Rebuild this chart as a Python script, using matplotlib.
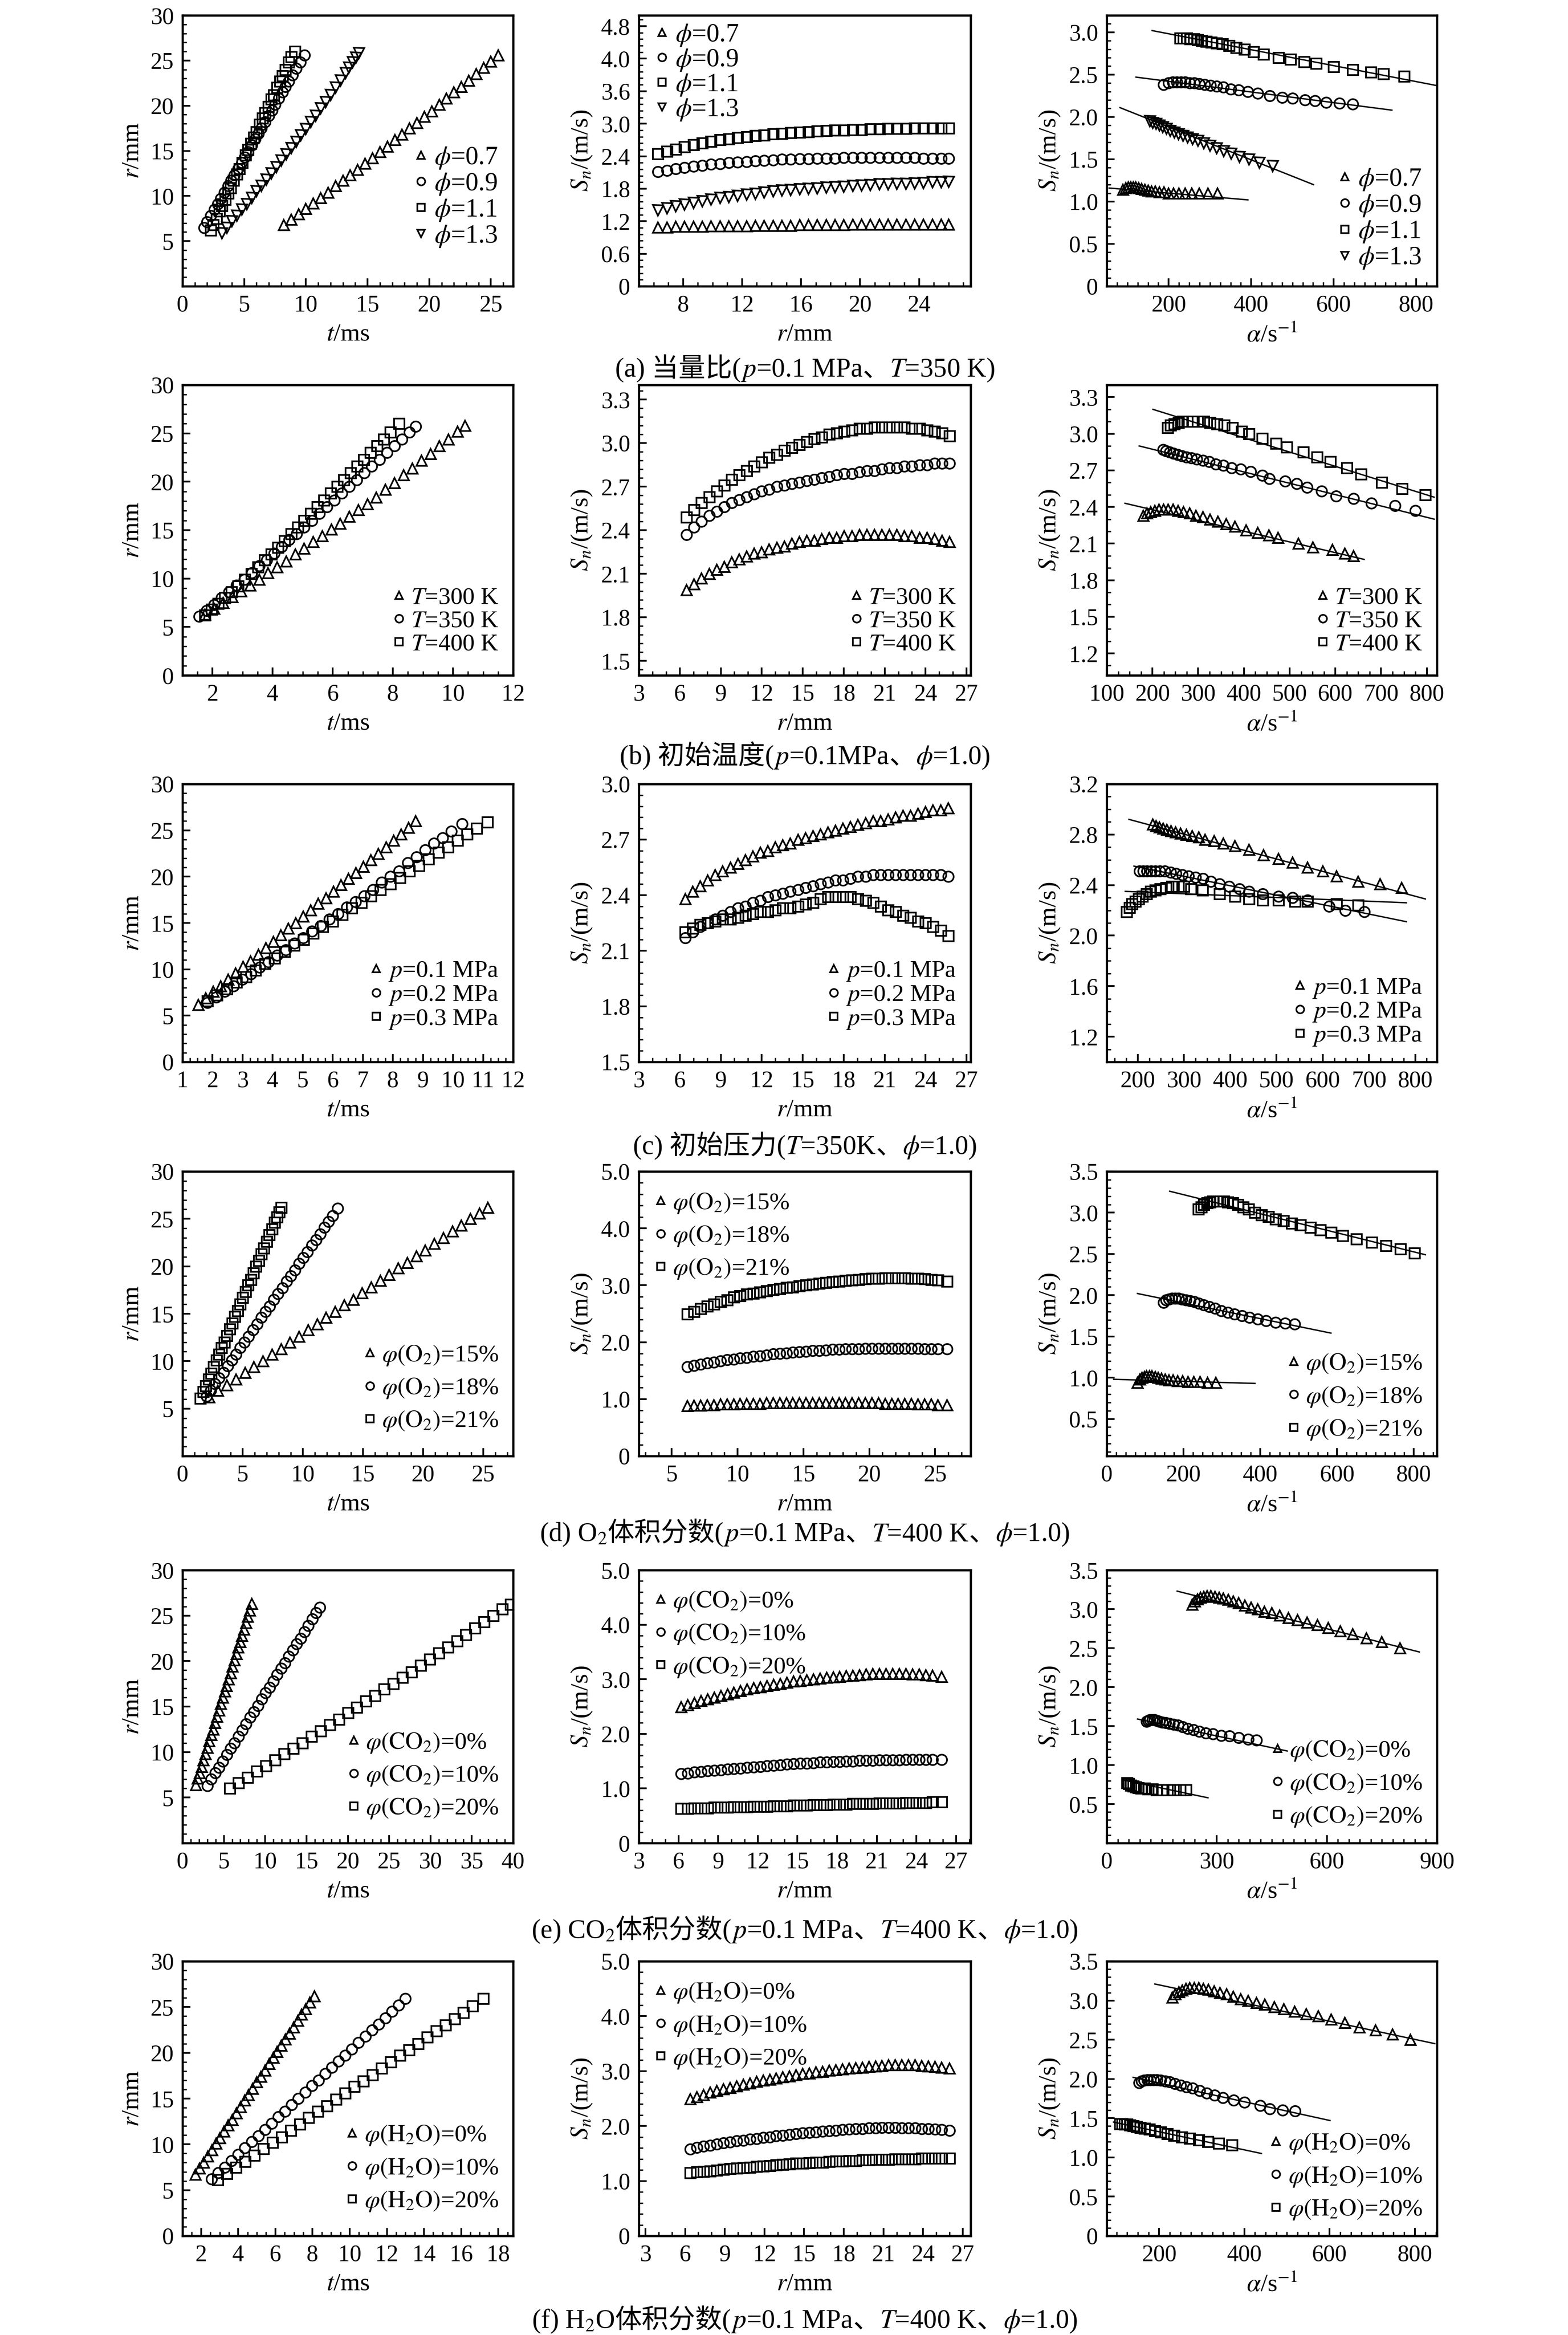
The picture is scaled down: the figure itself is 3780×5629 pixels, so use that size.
import matplotlib
matplotlib.use('Agg')
import matplotlib.pyplot as plt
from matplotlib.ticker import AutoMinorLocator, FuncFormatter

plt.rcParams['font.family'] = ['Liberation Serif', 'Noto Sans CJK SC']
plt.rcParams['mathtext.fontset'] = 'stix'
plt.rcParams['axes.unicode_minus'] = False

W, H = 3780, 5629

# ---------------- (a) equivalence ratio ----------------
A_LABELS = [r'$\phi$=0.7', r'$\phi$=0.9', r'$\phi$=1.1', r'$\phi$=1.3']
A_MARKERS = ['^', 'o', 's', 'v']

A_T07 = [8.2, 8.8, 9.4, 10.0, 10.6, 11.2, 11.8, 12.4, 13.0, 13.6,
         14.2, 14.8, 15.4, 16.0, 16.6, 17.2, 17.8, 18.4, 19.0, 19.6,
         20.2, 20.8, 21.4, 22.0, 22.6, 23.2, 23.8, 24.4, 25.0, 25.6]
A_R07 = [6.8, 7.4, 8.0, 8.6, 9.2, 9.8, 10.4, 11.1, 11.7, 12.3,
         12.9, 13.6, 14.2, 14.9, 15.5, 16.2, 16.8, 17.5, 18.1, 18.8,
         19.4, 20.1, 20.8, 21.5, 22.1, 22.8, 23.5, 24.2, 24.9, 25.6]
A_T09 = [1.75, 2.0, 2.3, 2.6, 2.85, 3.1, 3.4, 3.7, 3.95, 4.2,
         4.5, 4.8, 5.05, 5.3, 5.6, 5.9, 6.15, 6.4, 6.7, 7.0,
         7.25, 7.5, 7.8, 8.1, 8.35, 8.6, 8.9, 9.2, 9.55, 9.9]
A_R09 = [6.5, 7.1, 7.8, 8.5, 9.1, 9.7, 10.4, 11.1, 11.7, 12.3,
         13.0, 13.7, 14.3, 14.9, 15.6, 16.3, 16.9, 17.5, 18.2, 18.9,
         19.5, 20.1, 20.8, 21.5, 22.1, 22.7, 23.4, 24.1, 24.8, 25.6]
A_T11 = [2.3, 2.5, 2.75, 3.0, 3.2, 3.45, 3.7, 3.9, 4.15, 4.4,
         4.6, 4.85, 5.1, 5.3, 5.55, 5.8, 6.0, 6.25, 6.5, 6.7,
         6.95, 7.2, 7.4, 7.65, 7.9, 8.1, 8.35, 8.6, 8.8, 9.1]
A_R11 = [6.2, 6.8, 7.5, 8.3, 8.9, 9.6, 10.3, 10.9, 11.7, 12.4,
         13.0, 13.7, 14.5, 15.1, 15.8, 16.5, 17.1, 17.9, 18.6, 19.2,
         19.9, 20.7, 21.2, 22.0, 22.7, 23.3, 24.0, 24.8, 25.4, 26.0]
A_T13 = [3.2, 3.6, 4.0, 4.4, 4.8, 5.2, 5.6, 6.0, 6.4, 6.8,
         7.2, 7.6, 8.0, 8.4, 8.8, 9.2, 9.6, 10.0, 10.4, 10.8,
         11.2, 11.6, 12.0, 12.4, 12.8, 13.2, 13.5, 13.8, 14.05, 14.3]
A_R13 = [5.9, 6.5, 7.2, 7.8, 8.5, 9.1, 9.8, 10.5, 11.1, 11.8,
         12.5, 13.2, 13.9, 14.6, 15.3, 16.0, 16.7, 17.4, 18.2, 18.9,
         19.7, 20.4, 21.2, 22.0, 22.8, 23.6, 24.2, 24.8, 25.3, 25.8]

A_RMID = [6.3, 6.9, 7.5, 8.1, 8.7, 9.3, 9.9, 10.5, 11.1, 11.7,
          12.3, 12.9, 13.5, 14.1, 14.7, 15.3, 15.9, 16.5, 17.1, 17.7,
          18.3, 18.9, 19.5, 20.1, 20.7, 21.3, 21.9, 22.5, 23.1, 23.7,
          24.3, 24.9, 25.5, 26.0]
A_S07 = [1.09, 1.09, 1.10, 1.10, 1.10, 1.10, 1.11, 1.11, 1.11, 1.11,
         1.11, 1.12, 1.12, 1.12, 1.12, 1.12, 1.13, 1.13, 1.13, 1.13,
         1.13, 1.13, 1.14, 1.14, 1.14, 1.14, 1.14, 1.14, 1.14, 1.14,
         1.14, 1.14, 1.14, 1.14]
A_S09 = [2.11, 2.14, 2.17, 2.19, 2.21, 2.23, 2.25, 2.26, 2.28, 2.29,
         2.30, 2.31, 2.32, 2.33, 2.34, 2.34, 2.35, 2.35, 2.36, 2.36,
         2.36, 2.37, 2.37, 2.37, 2.37, 2.37, 2.37, 2.37, 2.37, 2.37,
         2.36, 2.36, 2.36, 2.36]
A_S11 = [2.44, 2.49, 2.53, 2.57, 2.61, 2.64, 2.67, 2.70, 2.72, 2.74,
         2.76, 2.78, 2.79, 2.81, 2.82, 2.83, 2.84, 2.85, 2.86, 2.87,
         2.88, 2.88, 2.89, 2.89, 2.90, 2.90, 2.91, 2.91, 2.91, 2.92,
         2.92, 2.92, 2.92, 2.92]
A_S13 = [1.40, 1.44, 1.48, 1.51, 1.54, 1.57, 1.60, 1.63, 1.65, 1.67,
         1.69, 1.71, 1.73, 1.75, 1.77, 1.78, 1.79, 1.80, 1.81, 1.82,
         1.83, 1.84, 1.85, 1.86, 1.87, 1.88, 1.88, 1.89, 1.89, 1.90,
         1.91, 1.92, 1.92, 1.93]
# the source figure prints "4.0" at the 4.2 tick
A_MID_YTICKS = [0, 0.6, 1.2, 1.8, 2.4, 3.0, 3.6, 4.2, 4.8]
A_MID_YLABELS = ['0', '0.6', '1.2', '1.8', '2.4', '3.0', '3.6', '4.0', '4.8']

A_K07 = [89, 96, 102, 108, 114, 120, 127, 134, 142, 150,
         159, 168, 178, 189, 200, 212, 225, 240, 256, 274, 295, 318]
A_KS07 = [1.14, 1.16, 1.17, 1.17, 1.17, 1.17, 1.16, 1.15, 1.14, 1.13,
          1.12, 1.12, 1.11, 1.11, 1.10, 1.10, 1.10, 1.10, 1.10, 1.10, 1.10, 1.10]
A_K09 = [188, 200, 210, 220, 230, 240, 251, 262, 274, 287,
         301, 316, 332, 350, 370, 392, 416, 445, 475, 500,
         530, 555, 582, 614, 646]
A_KS09 = [2.38, 2.40, 2.41, 2.41, 2.41, 2.41, 2.40, 2.40, 2.39, 2.38,
          2.37, 2.36, 2.35, 2.33, 2.32, 2.30, 2.28, 2.25, 2.23, 2.22,
          2.20, 2.19, 2.17, 2.16, 2.15]
A_K11 = [228, 236, 244, 252, 261, 270, 280, 291, 303, 316,
         330, 346, 364, 384, 406, 430, 466, 495, 528, 558,
         600, 646, 690, 720, 771]
A_KS11 = [2.93, 2.93, 2.93, 2.92, 2.92, 2.91, 2.90, 2.89, 2.88, 2.87,
          2.86, 2.84, 2.82, 2.80, 2.77, 2.74, 2.70, 2.68, 2.65, 2.63,
          2.59, 2.56, 2.53, 2.51, 2.48]
A_K13 = [155, 162, 170, 178, 186, 195, 204, 214, 224, 235,
         246, 258, 271, 285, 300, 316, 333, 352, 372, 395, 420, 452]
A_KS13 = [1.95, 1.93, 1.92, 1.90, 1.88, 1.86, 1.84, 1.82, 1.80, 1.78,
          1.76, 1.74, 1.72, 1.69, 1.66, 1.63, 1.60, 1.57, 1.53, 1.50, 1.46, 1.42]
A_FIT_X = [(56, 392), (121, 741), (160, 850), (82, 551)]
A_FIT_Y = [(1.16, 1.02), (2.47, 2.08), (3.02, 2.37), (2.11, 1.20)]

# ---------------- (b) initial temperature ----------------
B_LABELS = [r'$T$=300 K', r'$T$=350 K', r'$T$=400 K']
B_MARKERS = ['^', 'o', 's']

B_T300 = [1.75, 2.05, 2.35, 2.65, 2.95, 3.25, 3.55, 3.85, 4.15, 4.45,
          4.75, 5.05, 5.35, 5.65, 5.95, 6.25, 6.55, 6.85, 7.15, 7.45,
          7.75, 8.05, 8.35, 8.65, 8.95, 9.25, 9.55, 9.85, 10.15, 10.4]
B_R300 = [6.3, 6.9, 7.5, 8.1, 8.7, 9.3, 9.9, 10.6, 11.2, 11.8,
          12.5, 13.1, 13.8, 14.4, 15.1, 15.7, 16.4, 17.1, 17.7, 18.4,
          19.2, 19.9, 20.7, 21.4, 22.2, 22.9, 23.7, 24.4, 25.2, 25.8]
B_T350 = [1.55, 1.8, 2.05, 2.3, 2.55, 2.8, 3.05, 3.3, 3.55, 3.8,
          4.05, 4.3, 4.55, 4.8, 5.05, 5.3, 5.55, 5.8, 6.05, 6.3,
          6.55, 6.8, 7.05, 7.3, 7.55, 7.8, 8.05, 8.3, 8.55, 8.75]
B_R350 = [6.1, 6.7, 7.3, 8.0, 8.6, 9.3, 9.9, 10.6, 11.3, 11.9,
          12.6, 13.3, 14.0, 14.6, 15.3, 16.0, 16.7, 17.4, 18.1, 18.8,
          19.5, 20.2, 20.9, 21.6, 22.3, 23.0, 23.7, 24.4, 25.1, 25.7]
B_T400 = [1.75, 1.97, 2.19, 2.41, 2.63, 2.85, 3.07, 3.29, 3.51, 3.73,
          3.95, 4.17, 4.39, 4.61, 4.83, 5.05, 5.27, 5.49, 5.71, 5.93,
          6.15, 6.37, 6.59, 6.81, 7.03, 7.25, 7.47, 7.69, 7.91, 8.2]
B_R400 = [6.2, 6.8, 7.4, 8.0, 8.6, 9.2, 9.9, 10.5, 11.2, 11.9,
          12.5, 13.2, 13.9, 14.6, 15.3, 16.0, 16.7, 17.4, 18.1, 18.8,
          19.5, 20.2, 20.9, 21.6, 22.3, 23.0, 23.7, 24.4, 25.1, 26.0]

B_RMID = [6.5, 7.05, 7.6, 8.15, 8.7, 9.25, 9.8, 10.35, 10.9, 11.45,
          12.0, 12.55, 13.1, 13.65, 14.2, 14.75, 15.3, 15.85, 16.4, 16.95,
          17.5, 18.05, 18.6, 19.15, 19.7, 20.25, 20.8, 21.35, 21.9, 22.45,
          23.0, 23.55, 24.1, 24.65, 25.2, 25.75]
B_S300 = [1.99, 2.03, 2.07, 2.10, 2.13, 2.15, 2.18, 2.20, 2.22, 2.24,
          2.25, 2.27, 2.28, 2.29, 2.31, 2.32, 2.33, 2.33, 2.34, 2.35,
          2.35, 2.36, 2.36, 2.37, 2.37, 2.37, 2.37, 2.37, 2.37, 2.36,
          2.36, 2.35, 2.35, 2.34, 2.33, 2.32]
B_S350 = [2.37, 2.42, 2.46, 2.50, 2.53, 2.56, 2.59, 2.61, 2.63, 2.65,
          2.67, 2.68, 2.70, 2.71, 2.72, 2.73, 2.74, 2.75, 2.76, 2.77,
          2.78, 2.79, 2.79, 2.80, 2.81, 2.81, 2.82, 2.83, 2.83, 2.84,
          2.84, 2.85, 2.85, 2.86, 2.86, 2.86]
B_S400 = [2.49, 2.54, 2.59, 2.63, 2.67, 2.71, 2.75, 2.78, 2.81, 2.84,
          2.87, 2.90, 2.92, 2.95, 2.97, 2.99, 3.01, 3.03, 3.04, 3.06,
          3.07, 3.08, 3.09, 3.10, 3.10, 3.11, 3.11, 3.11, 3.11, 3.11,
          3.10, 3.10, 3.09, 3.08, 3.07, 3.05]

B_K300 = [180, 188, 196, 205, 214, 224, 234, 245, 256, 268,
          281, 295, 310, 326, 343, 361, 380, 405, 430, 455,
          475, 519, 551, 593, 621, 640]
B_KS300 = [2.33, 2.35, 2.36, 2.37, 2.38, 2.38, 2.38, 2.38, 2.37, 2.36,
           2.35, 2.33, 2.32, 2.30, 2.28, 2.26, 2.24, 2.21, 2.19, 2.17,
           2.15, 2.10, 2.07, 2.05, 2.02, 2.00]
B_K350 = [223, 230, 238, 246, 255, 264, 274, 285, 297, 310,
          324, 339, 355, 373, 393, 415, 440, 456, 490, 515,
          538, 570, 602, 640, 679, 730, 775]
B_KS350 = [2.87, 2.86, 2.85, 2.84, 2.83, 2.82, 2.81, 2.80, 2.79, 2.78,
           2.77, 2.75, 2.74, 2.72, 2.71, 2.69, 2.66, 2.63, 2.61, 2.59,
           2.56, 2.53, 2.49, 2.47, 2.43, 2.41, 2.37]
B_K400 = [233, 240, 248, 257, 266, 276, 287, 299, 312, 326,
          341, 357, 375, 395, 411, 440, 470, 494, 530, 560,
          589, 625, 656, 701, 746, 797]
B_KS400 = [3.05, 3.07, 3.08, 3.09, 3.10, 3.10, 3.10, 3.10, 3.10, 3.09,
           3.08, 3.07, 3.05, 3.02, 3.00, 2.96, 2.92, 2.89, 2.85, 2.81,
           2.77, 2.72, 2.67, 2.60, 2.55, 2.50]
B_FIT_X = [(140, 663), (171, 816), (201, 816)]
B_FIT_Y = [(2.43, 1.97), (2.90, 2.30), (3.20, 2.48)]

# ---------------- (c) initial pressure ----------------
C_LABELS = [r'$p$=0.1 MPa', r'$p$=0.2 MPa', r'$p$=0.3 MPa']
C_MARKERS = ['^', 'o', 's']

C_T01 = [1.52, 1.77, 2.02, 2.27, 2.52, 2.77, 3.02, 3.27, 3.52, 3.77,
         4.02, 4.27, 4.52, 4.77, 5.02, 5.27, 5.52, 5.77, 6.02, 6.27,
         6.52, 6.77, 7.02, 7.27, 7.52, 7.77, 8.02, 8.27, 8.52, 8.76]
C_R01 = [6.2, 6.9, 7.6, 8.2, 8.9, 9.6, 10.3, 10.9, 11.6, 12.3,
         13.0, 13.7, 14.4, 15.0, 15.7, 16.4, 17.1, 17.7, 18.4, 19.1,
         19.8, 20.4, 21.1, 21.8, 22.5, 23.2, 23.9, 24.6, 25.3, 26.0]
C_T02 = [1.83, 2.12, 2.41, 2.7, 2.99, 3.28, 3.57, 3.86, 4.15, 4.44,
         4.73, 5.02, 5.31, 5.6, 5.89, 6.18, 6.47, 6.76, 7.05, 7.34,
         7.63, 7.92, 8.21, 8.5, 8.79, 9.08, 9.37, 9.66, 9.95, 10.3]
C_R02 = [6.4, 7.0, 7.6, 8.2, 8.9, 9.5, 10.2, 10.8, 11.5, 12.1,
         12.8, 13.4, 14.1, 14.7, 15.4, 16.0, 16.7, 17.3, 17.9, 18.6,
         19.4, 20.0, 20.6, 21.5, 22.1, 22.9, 23.6, 24.2, 24.9, 25.7]
C_T03 = [1.83, 2.15, 2.47, 2.79, 3.11, 3.43, 3.75, 4.07, 4.39, 4.71,
         5.03, 5.35, 5.67, 5.99, 6.31, 6.63, 6.95, 7.27, 7.59, 7.91,
         8.23, 8.55, 8.87, 9.19, 9.51, 9.83, 10.15, 10.47, 10.79, 11.15]
C_R03 = [6.6, 7.2, 7.9, 8.6, 9.2, 9.9, 10.6, 11.2, 11.9, 12.6,
         13.2, 13.9, 14.6, 15.2, 15.9, 16.6, 17.2, 17.9, 18.6, 19.2,
         19.9, 20.6, 21.2, 21.9, 22.6, 23.2, 23.9, 24.6, 25.2, 25.9]

C_RMID = [6.4, 6.95, 7.5, 8.05, 8.6, 9.15, 9.7, 10.25, 10.8, 11.35,
          11.9, 12.45, 13.0, 13.55, 14.1, 14.65, 15.2, 15.75, 16.3, 16.85,
          17.4, 17.95, 18.5, 19.05, 19.6, 20.15, 20.7, 21.25, 21.8, 22.35,
          22.9, 23.45, 24.0, 24.55, 25.1, 25.65]
C_S01 = [2.38, 2.42, 2.45, 2.48, 2.51, 2.53, 2.55, 2.57, 2.59, 2.61,
         2.63, 2.64, 2.66, 2.67, 2.68, 2.70, 2.71, 2.72, 2.73, 2.74,
         2.75, 2.76, 2.77, 2.78, 2.79, 2.80, 2.80, 2.81, 2.82, 2.83,
         2.83, 2.84, 2.85, 2.86, 2.86, 2.87]
C_S02 = [2.17, 2.20, 2.23, 2.25, 2.27, 2.29, 2.31, 2.33, 2.34, 2.36,
         2.37, 2.39, 2.40, 2.41, 2.42, 2.43, 2.44, 2.45, 2.46, 2.47,
         2.48, 2.48, 2.49, 2.50, 2.50, 2.51, 2.51, 2.51, 2.51, 2.51,
         2.51, 2.51, 2.51, 2.51, 2.51, 2.50]
C_S03 = [2.20, 2.22, 2.24, 2.25, 2.26, 2.27, 2.27, 2.28, 2.29, 2.30,
         2.31, 2.31, 2.32, 2.33, 2.33, 2.34, 2.35, 2.36, 2.38, 2.39,
         2.39, 2.39, 2.39, 2.38, 2.37, 2.36, 2.34, 2.32, 2.31, 2.29,
         2.28, 2.26, 2.25, 2.23, 2.21, 2.18]

C_K01 = [233, 240, 247, 255, 263, 272, 282, 293, 305, 318,
         332, 346, 365, 385, 410, 441, 472, 504, 535, 567,
         600, 630, 677, 724, 771]
C_KS01 = [2.88, 2.87, 2.86, 2.85, 2.84, 2.83, 2.82, 2.81, 2.80, 2.79,
          2.78, 2.76, 2.75, 2.73, 2.71, 2.68, 2.64, 2.61, 2.58, 2.54,
          2.51, 2.47, 2.43, 2.41, 2.38]
C_K02 = [204, 212, 220, 229, 238, 248, 259, 271, 283, 296,
         310, 325, 341, 358, 377, 398, 420, 441, 470, 504,
         535, 567, 614, 649, 690]
C_KS02 = [2.51, 2.51, 2.51, 2.51, 2.51, 2.51, 2.51, 2.50, 2.49, 2.48,
          2.47, 2.46, 2.45, 2.43, 2.41, 2.39, 2.37, 2.35, 2.33, 2.31,
          2.30, 2.28, 2.23, 2.20, 2.19]
C_K03 = [176, 182, 188, 195, 202, 210, 219, 228, 238, 249,
         261, 274, 288, 300, 315, 340, 377, 410, 441, 470,
         504, 540, 567, 630, 677]
C_KS03 = [2.19, 2.22, 2.25, 2.27, 2.29, 2.31, 2.33, 2.35, 2.36, 2.37,
          2.38, 2.39, 2.39, 2.39, 2.37, 2.36, 2.33, 2.31, 2.29, 2.28,
          2.28, 2.27, 2.27, 2.25, 2.24]
C_FIT_X = [(181, 822), (192, 781), (173, 781)]
C_FIT_Y = [(2.92, 2.29), (2.55, 2.11), (2.35, 2.26)]

# ---------------- (d) O2 fraction ----------------
D_LABELS = [r'$\varphi(\mathrm{O_2})$=15%', r'$\varphi(\mathrm{O_2})$=18%',
            r'$\varphi(\mathrm{O_2})$=21%']
D_MARKERS = ['^', 'o', 's']

D_T15 = [2.2, 2.95, 3.7, 4.45, 5.2, 5.95, 6.7, 7.45, 8.2, 8.95,
         9.7, 10.45, 11.2, 11.95, 12.7, 13.45, 14.2, 14.95, 15.7, 16.45,
         17.2, 17.95, 18.7, 19.45, 20.2, 20.95, 21.7, 22.45, 23.2, 23.95,
         24.7, 25.4]
D_R15 = [6.2, 6.9, 7.5, 8.1, 8.8, 9.4, 10.0, 10.7, 11.3, 12.0,
         12.6, 13.3, 13.9, 14.6, 15.2, 15.9, 16.5, 17.2, 17.8, 18.5,
         19.1, 19.8, 20.4, 21.1, 21.7, 22.4, 23.0, 23.7, 24.3, 25.0,
         25.6, 26.2]
D_T18 = [2.0, 2.35, 2.7, 3.05, 3.4, 3.75, 4.1, 4.45, 4.8, 5.15,
         5.5, 5.85, 6.2, 6.55, 6.9, 7.25, 7.6, 7.95, 8.3, 8.65,
         9.0, 9.35, 9.7, 10.05, 10.4, 10.75, 11.1, 11.45, 11.8, 12.15,
         12.5, 12.9]
D_R18 = [6.3, 6.9, 7.6, 8.2, 8.8, 9.5, 10.1, 10.7, 11.4, 12.0,
         12.6, 13.3, 13.9, 14.6, 15.2, 15.8, 16.5, 17.1, 17.7, 18.4,
         19.0, 19.6, 20.3, 20.9, 21.5, 22.2, 22.8, 23.4, 24.1, 24.7,
         25.3, 26.1]
D_T21 = [1.5, 1.72, 1.94, 2.16, 2.38, 2.6, 2.82, 3.04, 3.26, 3.48,
         3.7, 3.92, 4.14, 4.36, 4.58, 4.8, 5.02, 5.24, 5.46, 5.68,
         5.9, 6.12, 6.34, 6.56, 6.78, 7.0, 7.22, 7.44, 7.66, 7.88,
         8.05, 8.2]
D_R21 = [6.1, 6.8, 7.4, 8.1, 8.7, 9.4, 10.1, 10.7, 11.4, 12.0,
         12.7, 13.4, 14.0, 14.7, 15.3, 16.0, 16.7, 17.3, 18.0, 18.6,
         19.3, 20.0, 20.6, 21.3, 21.9, 22.6, 23.3, 23.9, 24.6, 25.2,
         25.7, 26.2]

DE_RMID = [6.2, 6.7, 7.2, 7.7, 8.2, 8.7, 9.2, 9.7, 10.2, 10.7,
           11.2, 11.7, 12.2, 12.7, 13.2, 13.7, 14.2, 14.7, 15.2, 15.7,
           16.2, 16.7, 17.2, 17.7, 18.2, 18.7, 19.2, 19.7, 20.2, 20.7,
           21.2, 21.7, 22.2, 22.7, 23.2, 23.7, 24.2, 24.7, 25.2, 25.9]
D_S15 = [0.88, 0.89, 0.89, 0.90, 0.90, 0.91, 0.91, 0.91, 0.92, 0.92,
         0.92, 0.92, 0.93, 0.93, 0.93, 0.93, 0.93, 0.93, 0.93, 0.93,
         0.93, 0.93, 0.93, 0.93, 0.93, 0.93, 0.93, 0.93, 0.93, 0.93,
         0.92, 0.92, 0.92, 0.92, 0.92, 0.91, 0.91, 0.91, 0.90, 0.90]
D_S18 = [1.57, 1.59, 1.61, 1.63, 1.65, 1.67, 1.69, 1.70, 1.72, 1.73,
         1.75, 1.76, 1.77, 1.79, 1.80, 1.81, 1.82, 1.83, 1.84, 1.85,
         1.85, 1.86, 1.87, 1.87, 1.88, 1.88, 1.88, 1.89, 1.89, 1.89,
         1.89, 1.89, 1.89, 1.89, 1.89, 1.89, 1.88, 1.88, 1.88, 1.88]
D_S21 = [2.49, 2.54, 2.59, 2.63, 2.67, 2.71, 2.74, 2.79, 2.81, 2.84,
         2.86, 2.88, 2.90, 2.92, 2.94, 2.96, 2.97, 2.99, 3.00, 3.02,
         3.03, 3.05, 3.06, 3.07, 3.08, 3.09, 3.10, 3.11, 3.12, 3.12,
         3.13, 3.13, 3.13, 3.13, 3.12, 3.12, 3.11, 3.10, 3.09, 3.07]

D_K15 = [80, 86, 92, 98, 104, 111, 118, 126, 134, 143,
         152, 162, 173, 185, 198, 212, 227, 243, 262, 284]
D_KS15 = [0.94, 0.98, 1.00, 1.01, 1.02, 1.02, 1.02, 1.01, 1.00, 0.99,
          0.98, 0.97, 0.97, 0.96, 0.96, 0.95, 0.95, 0.95, 0.94, 0.94]
D_K18 = [148, 155, 162, 170, 178, 187, 196, 206, 217, 228,
         240, 253, 267, 282, 298, 315, 333, 352, 372, 393,
         415, 440, 465, 489]
D_KS18 = [1.91, 1.94, 1.95, 1.96, 1.96, 1.96, 1.95, 1.94, 1.93, 1.92,
          1.90, 1.88, 1.86, 1.84, 1.81, 1.79, 1.77, 1.75, 1.73, 1.71,
          1.69, 1.67, 1.66, 1.65]
D_K21 = [239, 246, 253, 261, 269, 277, 286, 295, 305, 316,
         328, 341, 355, 370, 386, 403, 421, 440, 460, 482,
         505, 530, 556, 585, 615, 650, 690, 727, 765, 802]
D_KS21 = [3.04, 3.07, 3.10, 3.12, 3.13, 3.14, 3.14, 3.14, 3.14, 3.13,
          3.12, 3.10, 3.07, 3.04, 3.00, 2.97, 2.95, 2.92, 2.90, 2.87,
          2.85, 2.82, 2.79, 2.76, 2.72, 2.68, 2.64, 2.60, 2.56, 2.51]
D_FIT_X = [(18, 386), (80, 584), (164, 830)]
D_FIT_Y = [(0.98, 0.93), (2.02, 1.54), (3.26, 2.49)]

# ---------------- (e) CO2 fraction ----------------
E_LABELS = [r'$\varphi(\mathrm{CO_2})$=0%', r'$\varphi(\mathrm{CO_2})$=10%',
            r'$\varphi(\mathrm{CO_2})$=20%']
E_MARKERS = ['^', 'o', 's']

E_T00 = [1.6, 1.83, 2.06, 2.3, 2.53, 2.76, 3.0, 3.23, 3.46, 3.7,
         3.93, 4.16, 4.4, 4.63, 4.86, 5.1, 5.33, 5.56, 5.8, 6.03,
         6.26, 6.5, 6.73, 6.96, 7.2, 7.43, 7.66, 7.9, 8.13, 8.4]
E_R00 = [6.4, 7.1, 7.7, 8.4, 9.1, 9.8, 10.5, 11.2, 11.9, 12.5,
         13.2, 13.9, 14.6, 15.3, 16.0, 16.7, 17.3, 18.0, 18.7, 19.4,
         20.1, 20.8, 21.5, 22.1, 22.8, 23.5, 24.2, 24.9, 25.6, 26.3]
E_T10 = [3.0, 3.47, 3.94, 4.41, 4.88, 5.35, 5.82, 6.29, 6.76, 7.23,
         7.7, 8.17, 8.64, 9.11, 9.58, 10.05, 10.52, 10.99, 11.46, 11.93,
         12.4, 12.87, 13.34, 13.81, 14.28, 14.75, 15.22, 15.69, 16.16, 16.6]
E_R10 = [6.3, 7.0, 7.7, 8.3, 9.0, 9.7, 10.4, 11.0, 11.7, 12.4,
         13.1, 13.8, 14.4, 15.1, 15.8, 16.5, 17.1, 17.8, 18.5, 19.2,
         19.8, 20.5, 21.2, 21.9, 22.5, 23.2, 23.9, 24.6, 25.3, 25.9]
E_T20 = [5.7, 6.8, 7.9, 9.0, 10.1, 11.2, 12.3, 13.4, 14.5, 15.6,
         16.7, 17.8, 18.9, 20.0, 21.1, 22.2, 23.3, 24.4, 25.5, 26.6,
         27.7, 28.8, 29.9, 31.0, 32.1, 33.2, 34.3, 35.4, 36.5, 37.6,
         38.7, 39.7]
E_R20 = [6.0, 6.6, 7.2, 7.9, 8.5, 9.1, 9.8, 10.4, 11.0, 11.7,
         12.3, 13.0, 13.6, 14.3, 14.9, 15.6, 16.2, 16.9, 17.5, 18.2,
         18.8, 19.5, 20.2, 20.9, 21.5, 22.2, 22.9, 23.6, 24.3, 25.0,
         25.7, 26.2]

E_S00 = [2.49, 2.53, 2.57, 2.61, 2.64, 2.67, 2.70, 2.73, 2.76, 2.79,
         2.82, 2.84, 2.86, 2.88, 2.90, 2.92, 2.94, 2.96, 2.97, 2.99,
         3.00, 3.02, 3.03, 3.04, 3.05, 3.06, 3.07, 3.08, 3.09, 3.10,
         3.10, 3.10, 3.10, 3.10, 3.10, 3.09, 3.09, 3.08, 3.07, 3.05]
E_S10 = [1.27, 1.28, 1.30, 1.31, 1.32, 1.33, 1.34, 1.35, 1.36, 1.37,
         1.38, 1.39, 1.40, 1.41, 1.42, 1.43, 1.44, 1.45, 1.46, 1.46,
         1.47, 1.48, 1.48, 1.49, 1.49, 1.50, 1.50, 1.51, 1.51, 1.51,
         1.52, 1.52, 1.52, 1.52, 1.53, 1.53, 1.53, 1.53, 1.53, 1.53]
E_S20 = [0.63, 0.63, 0.64, 0.64, 0.64, 0.65, 0.65, 0.65, 0.66, 0.66,
         0.66, 0.67, 0.67, 0.67, 0.68, 0.68, 0.68, 0.69, 0.69, 0.69,
         0.70, 0.70, 0.70, 0.71, 0.71, 0.71, 0.72, 0.72, 0.72, 0.72,
         0.73, 0.73, 0.73, 0.73, 0.74, 0.74, 0.74, 0.74, 0.75, 0.75]

E_K00 = [233, 240, 248, 256, 265, 274, 284, 295, 306, 318,
         331, 345, 360, 376, 393, 411, 430, 450, 472, 495,
         520, 546, 574, 604, 636, 670, 708, 750, 799]
E_KS00 = [3.06, 3.10, 3.13, 3.15, 3.16, 3.17, 3.17, 3.16, 3.15, 3.14,
          3.12, 3.10, 3.08, 3.05, 3.02, 3.00, 2.97, 2.95, 2.92, 2.89,
          2.86, 2.83, 2.80, 2.76, 2.72, 2.68, 2.63, 2.58, 2.50]
E_K10 = [108, 113, 118, 124, 130, 137, 144, 152, 161, 171,
         182, 194, 207, 221, 236, 252, 270, 290, 312, 335,
         360, 385, 408]
E_KS10 = [1.56, 1.57, 1.58, 1.58, 1.58, 1.57, 1.56, 1.55, 1.54, 1.53,
          1.52, 1.51, 1.49, 1.47, 1.45, 1.43, 1.41, 1.40, 1.38, 1.37,
          1.35, 1.33, 1.32]
E_K20 = [55, 60, 66, 72, 79, 86, 94, 103, 113, 124,
         136, 150, 165, 182, 200, 216]
E_KS20 = [0.77, 0.76, 0.74, 0.73, 0.72, 0.71, 0.70, 0.70, 0.69, 0.69,
          0.68, 0.68, 0.68, 0.68, 0.68, 0.68]
E_FIT_X = [(192, 852), (84, 492), (43, 276)]
E_FIT_Y = [(3.23, 2.45), (1.59, 1.18), (0.81, 0.58)]

# ---------------- (f) H2O fraction ----------------
F_LABELS = [r'$\varphi(\mathrm{H_2O})$=0%', r'$\varphi(\mathrm{H_2O})$=10%',
            r'$\varphi(\mathrm{H_2O})$=20%']
F_MARKERS = ['^', 'o', 's']

F_T00 = [1.7, 1.92, 2.14, 2.36, 2.58, 2.8, 3.02, 3.24, 3.46, 3.68,
         3.9, 4.12, 4.34, 4.56, 4.78, 5.0, 5.22, 5.44, 5.66, 5.88,
         6.1, 6.32, 6.54, 6.76, 6.98, 7.2, 7.42, 7.64, 7.86, 8.1]
F_R00 = [6.7, 7.4, 8.0, 8.7, 9.4, 10.1, 10.7, 11.4, 12.1, 12.7,
         13.4, 14.1, 14.8, 15.4, 16.1, 16.8, 17.4, 18.1, 18.8, 19.5,
         20.1, 20.8, 21.5, 22.1, 22.8, 23.5, 24.2, 24.8, 25.5, 26.2]
F_T10 = [2.56, 2.92, 3.28, 3.64, 4.0, 4.36, 4.72, 5.08, 5.44, 5.8,
         6.16, 6.52, 6.88, 7.24, 7.6, 7.96, 8.32, 8.68, 9.04, 9.4,
         9.76, 10.12, 10.48, 10.84, 11.2, 11.56, 11.92, 12.28, 12.64, 13.0]
F_R10 = [6.2, 6.9, 7.5, 8.2, 8.9, 9.6, 10.3, 10.9, 11.6, 12.3,
         13.0, 13.6, 14.3, 15.0, 15.7, 16.4, 17.0, 17.7, 18.4, 19.1,
         19.7, 20.4, 21.1, 21.8, 22.5, 23.1, 23.8, 24.5, 25.2, 25.9]
F_T20 = [2.9, 3.39, 3.88, 4.37, 4.86, 5.35, 5.84, 6.33, 6.82, 7.31,
         7.8, 8.29, 8.78, 9.27, 9.76, 10.25, 10.74, 11.23, 11.72, 12.21,
         12.7, 13.19, 13.68, 14.17, 14.66, 15.15, 15.64, 16.13, 16.62, 17.2]
F_R20 = [6.1, 6.8, 7.5, 8.1, 8.8, 9.5, 10.2, 10.8, 11.5, 12.2,
         12.9, 13.6, 14.2, 14.9, 15.6, 16.3, 16.9, 17.6, 18.3, 19.0,
         19.7, 20.3, 21.0, 21.7, 22.4, 23.0, 23.7, 24.4, 25.1, 25.9]

F_RMID = [6.4, 6.9, 7.4, 7.9, 8.4, 8.9, 9.4, 9.9, 10.4, 10.9,
          11.4, 11.9, 12.4, 12.9, 13.4, 13.9, 14.4, 14.9, 15.4, 15.9,
          16.4, 16.9, 17.4, 17.9, 18.4, 18.9, 19.4, 19.9, 20.4, 20.9,
          21.4, 21.9, 22.4, 22.9, 23.4, 23.9, 24.4, 24.9, 25.4, 26.0]
F_S00 = [2.49, 2.53, 2.57, 2.61, 2.64, 2.67, 2.70, 2.73, 2.76, 2.78,
         2.81, 2.83, 2.85, 2.87, 2.89, 2.91, 2.93, 2.95, 2.96, 2.98,
         2.99, 3.01, 3.02, 3.04, 3.05, 3.06, 3.07, 3.08, 3.09, 3.10,
         3.11, 3.11, 3.11, 3.11, 3.11, 3.10, 3.09, 3.08, 3.07, 3.05]
F_S10 = [1.58, 1.61, 1.63, 1.65, 1.67, 1.69, 1.71, 1.73, 1.74, 1.76,
         1.77, 1.79, 1.80, 1.82, 1.83, 1.84, 1.86, 1.87, 1.88, 1.89,
         1.90, 1.91, 1.92, 1.93, 1.94, 1.95, 1.95, 1.96, 1.96, 1.97,
         1.97, 1.97, 1.96, 1.96, 1.96, 1.95, 1.95, 1.94, 1.93, 1.92]
F_S20 = [1.15, 1.16, 1.17, 1.18, 1.19, 1.21, 1.22, 1.23, 1.24, 1.25,
         1.26, 1.27, 1.28, 1.29, 1.30, 1.31, 1.32, 1.32, 1.33, 1.34,
         1.34, 1.35, 1.36, 1.36, 1.37, 1.37, 1.38, 1.38, 1.39, 1.39,
         1.39, 1.40, 1.40, 1.40, 1.40, 1.41, 1.41, 1.41, 1.41, 1.41]

F_K00 = [231, 238, 246, 254, 263, 272, 282, 293, 304, 316,
         329, 343, 358, 374, 391, 409, 428, 448, 470, 493,
         518, 545, 574, 604, 636, 670, 708, 748, 790]
F_KS00 = [3.04, 3.08, 3.11, 3.13, 3.15, 3.16, 3.16, 3.16, 3.15, 3.14,
          3.12, 3.10, 3.08, 3.05, 3.02, 3.00, 2.97, 2.95, 2.92, 2.89,
          2.86, 2.83, 2.80, 2.76, 2.72, 2.66, 2.62, 2.57, 2.50]
F_K10 = [153, 159, 165, 172, 179, 187, 195, 204, 214, 225,
         237, 250, 264, 279, 295, 312, 330, 350, 375, 400,
         437, 460, 490, 519]
F_KS10 = [1.95, 1.97, 1.98, 1.99, 1.99, 1.99, 1.99, 1.98, 1.97, 1.96,
          1.94, 1.92, 1.90, 1.88, 1.85, 1.82, 1.79, 1.76, 1.73, 1.70,
          1.66, 1.62, 1.60, 1.59]
F_K20 = [108, 113, 119, 125, 132, 139, 147, 156, 166, 177,
         190, 204, 219, 235, 253, 272, 293, 315, 340, 371]
F_KS20 = [1.43, 1.43, 1.42, 1.42, 1.41, 1.40, 1.39, 1.38, 1.37, 1.36,
          1.34, 1.32, 1.30, 1.28, 1.26, 1.24, 1.22, 1.20, 1.18, 1.16]
F_FIT_X = [(190, 847), (139, 601), (93, 440)]
F_FIT_Y = [(3.21, 2.45), (2.02, 1.47), (1.45, 1.05)]

CAPTIONS = [
    ['(a) 当量比(', r'$p$=0.1 MPa', '、', r'$T$=350 K)'],
    ['(b) 初始温度(', r'$p$=0.1MPa', '、', r'$\phi$=1.0)'],
    ['(c) 初始压力(', r'$T$=350K', '、', r'$\phi$=1.0)'],
    [r'(d) O$_2$', '体积分数(', r'$p$=0.1 MPa', '、', r'$T$=400 K', '、', r'$\phi$=1.0)'],
    [r'(e) CO$_2$', '体积分数(', r'$p$=0.1 MPa', '、', r'$T$=400 K', '、', r'$\phi$=1.0)'],
    [r'(f) H$_2$O', '体积分数(', r'$p$=0.1 MPa', '、', r'$T$=400 K', '、', r'$\phi$=1.0)'],
]

# layout in pixels of the output image
COLS = [(440, 1237), (1540, 2340), (2668, 3464)]
ROWS = [(37, 690), (928, 1628), (1890, 2560), (2824, 3510), (3785, 4443), (4728, 5390)]
CAP_Y = [908, 1842, 2782, 3715, 4672, 5612]

TICK_FS = 13.5
LABEL_FS = 14.5


def dec(v, pos):
    return '0' if abs(v) < 1e-9 else '%.1f' % v


def intf(v, pos):
    return '%d' % round(v)


def make_ax(fig, row, col):
    x0, x1 = COLS[col]
    y0, y1 = ROWS[row]
    return fig.add_axes([x0 / W, 1 - y1 / H, (x1 - x0) / W, (y1 - y0) / H])


def style(ax, xlim, xticks, ylim, yticks, xmin, ymin, xf=intf, yf=dec):
    ax.set_xlim(*xlim)
    ax.set_ylim(*ylim)
    ax.set_xticks(xticks)
    ax.set_yticks(yticks)
    ax.xaxis.set_major_formatter(FuncFormatter(xf))
    ax.yaxis.set_major_formatter(FuncFormatter(yf))
    ax.xaxis.set_minor_locator(AutoMinorLocator(xmin))
    ax.yaxis.set_minor_locator(AutoMinorLocator(ymin))
    ax.tick_params(which='both', direction='in', top=False, right=False,
                   labelsize=TICK_FS)
    ax.tick_params(which='major', length=4.5, width=1.0, pad=5)
    ax.tick_params(which='minor', length=2.4, width=0.8)
    for s in ax.spines.values():
        s.set_linewidth(1.3)


def scatter(ax, xs, ys, m, label):
    ax.plot(xs, ys, linestyle='none', marker=m, ms=6.0, mfc='none',
            mec='black', mew=0.95, label=label)


def legend(ax, loc, anchor, size, spacing):
    ax.legend(loc=loc, bbox_to_anchor=anchor, frameon=False, fontsize=size,
              handlelength=0.6, handletextpad=0.2, labelspacing=spacing,
              borderaxespad=0.2, markerscale=0.75)


fig = plt.figure(figsize=(W / 300, H / 300), dpi=300)

ROW_DATA = [
    dict(labels=A_LABELS, markers=A_MARKERS,
         left=[(A_T07, A_R07), (A_T09, A_R09), (A_T11, A_R11), (A_T13, A_R13)],
         mid_r=A_RMID, mid=[A_S07, A_S09, A_S11, A_S13],
         right=[(A_K07, A_KS07), (A_K09, A_KS09), (A_K11, A_KS11), (A_K13, A_KS13)],
         fx=A_FIT_X, fy=A_FIT_Y),
    dict(labels=B_LABELS, markers=B_MARKERS,
         left=[(B_T300, B_R300), (B_T350, B_R350), (B_T400, B_R400)],
         mid_r=B_RMID, mid=[B_S300, B_S350, B_S400],
         right=[(B_K300, B_KS300), (B_K350, B_KS350), (B_K400, B_KS400)],
         fx=B_FIT_X, fy=B_FIT_Y),
    dict(labels=C_LABELS, markers=C_MARKERS,
         left=[(C_T01, C_R01), (C_T02, C_R02), (C_T03, C_R03)],
         mid_r=C_RMID, mid=[C_S01, C_S02, C_S03],
         right=[(C_K01, C_KS01), (C_K02, C_KS02), (C_K03, C_KS03)],
         fx=C_FIT_X, fy=C_FIT_Y),
    dict(labels=D_LABELS, markers=D_MARKERS,
         left=[(D_T15, D_R15), (D_T18, D_R18), (D_T21, D_R21)],
         mid_r=DE_RMID, mid=[D_S15, D_S18, D_S21],
         right=[(D_K15, D_KS15), (D_K18, D_KS18), (D_K21, D_KS21)],
         fx=D_FIT_X, fy=D_FIT_Y),
    dict(labels=E_LABELS, markers=E_MARKERS,
         left=[(E_T00, E_R00), (E_T10, E_R10), (E_T20, E_R20)],
         mid_r=DE_RMID, mid=[E_S00, E_S10, E_S20],
         right=[(E_K00, E_KS00), (E_K10, E_KS10), (E_K20, E_KS20)],
         fx=E_FIT_X, fy=E_FIT_Y),
    dict(labels=F_LABELS, markers=F_MARKERS,
         left=[(F_T00, F_R00), (F_T10, F_R10), (F_T20, F_R20)],
         mid_r=F_RMID, mid=[F_S00, F_S10, F_S20],
         right=[(F_K00, F_KS00), (F_K10, F_KS10), (F_K20, F_KS20)],
         fx=F_FIT_X, fy=F_FIT_Y),
]

# axis settings per row: (xlim, xticks, ylim, yticks, xminor, yminor)
LEFT_AX = [
    ((0, 26.8), [0, 5, 10, 15, 20, 25], (0, 30), [5, 10, 15, 20, 25, 30], 5, 5),
    ((1, 12), [2, 4, 6, 8, 10, 12], (0, 30), [0, 5, 10, 15, 20, 25, 30], 4, 5),
    ((1, 12), list(range(1, 13)), (0, 30), [0, 5, 10, 15, 20, 25, 30], 4, 5),
    ((0, 27.5), [0, 5, 10, 15, 20, 25], (0, 30), [5, 10, 15, 20, 25, 30], 5, 5),
    ((0, 40), [0, 5, 10, 15, 20, 25, 30, 35, 40], (0, 30), [5, 10, 15, 20, 25, 30], 5, 5),
    ((1, 18.8), [2, 4, 6, 8, 10, 12, 14, 16, 18], (0, 30), [0, 5, 10, 15, 20, 25, 30], 4, 5),
]
MID_AX = [
    ((5, 27.5), [8, 12, 16, 20, 24], (0, 5.0), A_MID_YTICKS, 4, 5),
    ((3, 27.3), list(range(3, 28, 3)), (1.4, 3.4), [1.5, 1.8, 2.1, 2.4, 2.7, 3.0, 3.3], 3, 5),
    ((3, 27.3), list(range(3, 28, 3)), (1.5, 3.0), [1.5, 1.8, 2.1, 2.4, 2.7, 3.0], 3, 5),
    ((2.5, 27.7), [5, 10, 15, 20, 25], (0, 5.0), [0, 1.0, 2.0, 3.0, 4.0, 5.0], 5, 5),
    ((3, 28.1), list(range(3, 28, 3)), (0, 5.0), [0, 1.0, 2.0, 3.0, 4.0, 5.0], 3, 5),
    ((2.5, 27.6), list(range(3, 28, 3)), (0, 5.0), [0, 1.0, 2.0, 3.0, 4.0, 5.0], 3, 5),
]
RIGHT_AX = [
    ((50, 850), [200, 400, 600, 800], (0, 3.2), [0, 0.5, 1.0, 1.5, 2.0, 2.5, 3.0], 8, 5),
    ((100, 822), list(range(100, 801, 100)), (1.02, 3.4), [1.2, 1.5, 1.8, 2.1, 2.4, 2.7, 3.0, 3.3], 4, 3),
    ((133, 847), list(range(200, 801, 100)), (1.0, 3.2), [1.2, 1.6, 2.0, 2.4, 2.8, 3.2], 4, 4),
    ((0, 860), [0, 200, 400, 600, 800], (0.05, 3.5), [0.5, 1.0, 1.5, 2.0, 2.5, 3.0, 3.5], 8, 5),
    ((0, 900), [0, 300, 600, 900], (0, 3.5), [0.5, 1.0, 1.5, 2.0, 2.5, 3.0, 3.5], 10, 5),
    ((77, 852), [200, 400, 600, 800], (0, 3.5), [0, 0.5, 1.0, 1.5, 2.0, 2.5, 3.0, 3.5], 8, 5),
]
# legend placement per row: (loc, anchor) for left, mid, right
LEG = [
    [('lower right', (1.0, 0.08)), ('upper left', (0.0, 1.03)), ('lower right', (1.0, 0.0))],
    [('lower right', (1.0, 0.02)), ('lower right', (1.0, 0.02)), ('lower right', (1.0, 0.02))],
    [('lower right', (1.0, 0.06)), ('lower right', (1.0, 0.06)), ('lower right', (1.0, 0.0))],
    [('lower right', (1.0, 0.03)), ('upper left', (0.0, 0.98)), ('lower right', (1.0, 0.0))],
    [('lower right', (1.0, 0.03)), ('upper left', (0.0, 0.98)), ('lower right', (1.0, 0.0))],
    [('lower right', (1.0, 0.03)), ('upper left', (0.0, 0.98)), ('lower right', (1.0, 0.0))],
]

for i, rd in enumerate(ROW_DATA):
    lsize = 15 if i == 0 else 14
    lspace = 0.05 if i < 3 else 0.4

    # r - t
    ax = make_ax(fig, i, 0)
    for (t, r), m, lab in zip(rd['left'], rd['markers'], rd['labels']):
        scatter(ax, t, r, m, lab)
    style(ax, *LEFT_AX[i], xf=intf, yf=intf)
    ax.set_xlabel(r'$t$/ms', fontsize=LABEL_FS)
    ax.set_ylabel(r'$r$/mm', fontsize=LABEL_FS)
    legend(ax, *LEG[i][0], lsize, lspace)

    # Sn - r
    ax = make_ax(fig, i, 1)
    for s, m, lab in zip(rd['mid'], rd['markers'], rd['labels']):
        scatter(ax, rd['mid_r'], s, m, lab)
    style(ax, *MID_AX[i], xf=intf, yf=dec)
    if i == 0:
        ax.set_yticklabels(A_MID_YLABELS)
    ax.set_xlabel(r'$r$/mm', fontsize=LABEL_FS)
    ax.set_ylabel(r'$S_n$/(m/s)', fontsize=LABEL_FS)
    legend(ax, *LEG[i][1], lsize, 0.0 if i == 0 else lspace)

    # Sn - stretch rate
    ax = make_ax(fig, i, 2)
    for (k, s), m, lab, fx, fy in zip(rd['right'], rd['markers'], rd['labels'],
                                      rd['fx'], rd['fy']):
        scatter(ax, k, s, m, lab)
        ax.plot(fx, fy, color='black', lw=0.8)
    style(ax, *RIGHT_AX[i], xf=intf, yf=dec)
    ax.set_xlabel(r'$\alpha$/s$^{-1}$', fontsize=LABEL_FS)
    ax.set_ylabel(r'$S_n$/(m/s)', fontsize=LABEL_FS)
    legend(ax, *LEG[i][2], lsize, lspace)

# captions: pieces placed side by side so CJK and math italics can mix
renderer = fig.canvas.get_renderer()
for parts, yb in zip(CAPTIONS, CAP_Y):
    texts = [fig.text(0, 1 - yb / H, p, fontsize=15.5, ha='left', va='baseline')
             for p in parts]
    widths = [t.get_window_extent(renderer).width for t in texts]
    x = 1940 - sum(widths) / 2
    for t, w in zip(texts, widths):
        t.set_x(x / W)
        x += w

fig.savefig('out.png', dpi=300)
